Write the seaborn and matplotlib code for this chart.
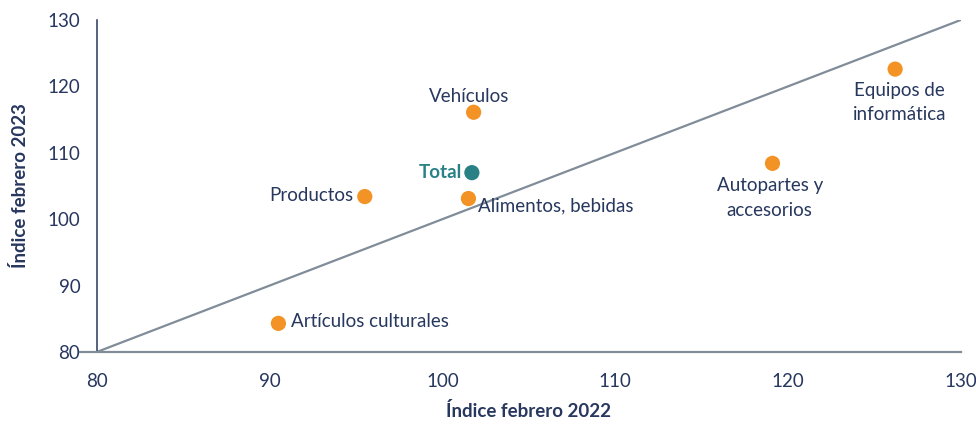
import matplotlib
matplotlib.use("Agg")
import matplotlib.pyplot as plt
import seaborn as sns
import pandas as pd

categorias = ["Vehículos", "Total", "Alimentos, bebidas", "Productos",
              "Artículos culturales", "Autopartes y\naccesorios", "Equipos de\ninformática"]
feb_2022 = [101.8, 101.7, 101.5, 95.5, 90.5, 119.1, 126.2]
feb_2023 = [116.1, 107.0, 103.1, 103.4, 84.3, 108.4, 122.6]

df = pd.DataFrame({"cat": categorias, "x": feb_2022, "y": feb_2023})
df["grupo"] = ["total" if c == "Total" else "otro" for c in categorias]

NAVY = "#27375E"
GRIS = "#808D99"
NARANJA = "#F39325"
VERDE = "#2A8185"

sns.set_theme(style="white")
plt.rcParams["font.family"] = ["Lato", "DejaVu Sans"]

fig = plt.figure(figsize=(9.76, 4.25), dpi=100)
ax = fig.add_axes([0.0994, 0.172, 0.885, 0.781])

ax.plot([80, 130], [80, 130], color=GRIS, lw=1.6, zorder=1)
sns.scatterplot(data=df, x="x", y="y", hue="grupo",
                palette={"otro": NARANJA, "total": VERDE},
                s=120, edgecolor="none", legend=False, ax=ax, zorder=3)

# etiquetas (offset en puntos)
offs = {
    "Vehículos": (-3, 11, "center", "center"),
    "Total": (-7, 0, "right", "center"),
    "Alimentos, bebidas": (7, -5, "left", "center"),
    "Productos": (-8, 1, "right", "center"),
    "Artículos culturales": (9, 1, "left", "center"),
    "Autopartes y\naccesorios": (-2, -25, "center", "center"),
    "Equipos de\ninformática": (3, -24, "center", "center"),
}
for c, x, y in zip(categorias, feb_2022, feb_2023):
    dx, dy, ha, va = offs[c]
    if c == "Total":
        ax.annotate(c, (x, y), xytext=(dx, dy), textcoords="offset points",
                    ha=ha, va=va, fontsize=13.5, fontweight="bold", color=VERDE)
    else:
        ax.annotate(c, (x, y), xytext=(dx, dy), textcoords="offset points",
                    ha=ha, va=va, fontsize=13.5, color=NAVY, linespacing=1.55)

ax.set_xlim(80, 130)
ax.set_ylim(80, 130)
ax.set_xticks(range(80, 131, 10))
ax.set_yticks(range(80, 131, 10))

for s in ["top", "right"]:
    ax.spines[s].set_visible(False)
ax.spines["left"].set_color(NAVY)
ax.spines["left"].set_linewidth(1.1)
ax.spines["bottom"].set_color(GRIS)
ax.spines["bottom"].set_linewidth(1.6)
ax.spines["bottom"].set_bounds(79, 130)

ax.tick_params(axis="y", direction="out", length=6, width=1, color=NAVY,
               labelsize=13.5, labelcolor=NAVY, pad=6)
ax.tick_params(axis="x", direction="out", length=6, width=1, color=GRIS,
               labelsize=13.5, labelcolor=NAVY, pad=9)
ax.set_xlabel("Índice febrero 2022", fontsize=13.5, fontweight="bold", color=NAVY, labelpad=9)
ax.set_ylabel("Índice febrero 2023", fontsize=13.5, fontweight="bold", color=NAVY, labelpad=13)

fig.savefig("out.png", dpi=100)
